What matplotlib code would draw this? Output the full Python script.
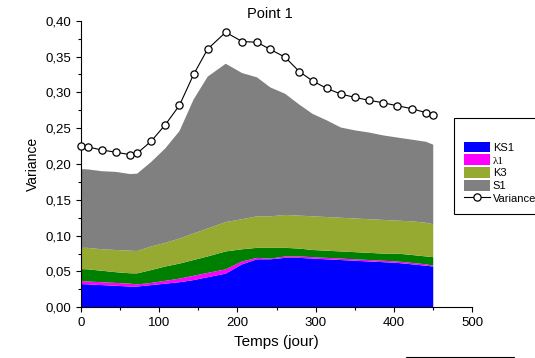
import matplotlib
matplotlib.use("Agg")
import matplotlib.pyplot as plt
from matplotlib.patches import Rectangle
from matplotlib.ticker import FuncFormatter, MultipleLocator

plt.rcParams["font.family"] = ["Liberation Sans", "DejaVu Sans"]

# days of the sampling campaign
jours = [0, 9, 27, 45, 63, 72, 90, 108, 126, 144, 162, 185, 206, 225, 242,
         261, 279, 296, 314, 332, 350, 368, 386, 404, 423, 441, 450]

# stacked contributions (bottom to top)
ks1 = [0.0325, 0.032, 0.031, 0.030, 0.029, 0.029, 0.031, 0.033, 0.035, 0.038,
       0.042, 0.047, 0.060, 0.067, 0.067, 0.069, 0.069, 0.068, 0.067, 0.066,
       0.065, 0.064, 0.063, 0.062, 0.060, 0.058, 0.057]
lambda1 = [0.0042, 0.004, 0.004, 0.004, 0.004, 0.003, 0.003, 0.004, 0.005, 0.006,
           0.006, 0.006, 0.004, 0.002, 0.001, 0.002, 0.002, 0.002, 0.002, 0.002,
           0.002, 0.002, 0.002, 0.002, 0.002, 0.002, 0.001]
autre = [0.0167, 0.017, 0.016, 0.015, 0.0145, 0.0154, 0.018, 0.020, 0.021, 0.022,
         0.023, 0.025, 0.017, 0.014, 0.015, 0.012, 0.011, 0.010, 0.010, 0.010,
         0.010, 0.010, 0.010, 0.011, 0.011, 0.011, 0.012]
k3 = [0.0296, 0.030, 0.030, 0.031, 0.0315, 0.0312, 0.033, 0.033, 0.035, 0.037,
      0.039, 0.041, 0.042, 0.044, 0.044, 0.046, 0.046, 0.047, 0.047, 0.047,
      0.047, 0.047, 0.047, 0.046, 0.047, 0.047, 0.046]
s1 = [0.110, 0.1095, 0.109, 0.109, 0.107, 0.108, 0.118, 0.132, 0.150, 0.187,
      0.212, 0.221, 0.204, 0.194, 0.180, 0.169, 0.155, 0.143, 0.135, 0.126,
      0.123, 0.121, 0.118, 0.116, 0.114, 0.113, 0.111]

# total variance (open circles)
variance = [0.225, 0.224, 0.2195, 0.2165, 0.213, 0.215, 0.232, 0.255, 0.282, 0.325,
            0.3605, 0.384, 0.371, 0.370, 0.360, 0.349, 0.329, 0.316, 0.3056, 0.2977,
            0.293, 0.289, 0.2855, 0.2814, 0.2772, 0.2716, 0.268]

couleurs = ["#0000ff", "#ff00ff", "#008000", "#96aa31", "#808080"]
noms = ["KS1", "\u03bb1", "_nolegend_", "K3", "S1"]

fig = plt.figure(figsize=(5.35, 3.58), dpi=100)
ax = fig.add_axes([0.151, 0.1416, 0.732, 0.8004])

ax.stackplot(jours, ks1, lambda1, autre, k3, s1, colors=couleurs, labels=noms,
             linewidth=0)
ax.plot(jours, variance, "-o", color="black", lw=0.8, ms=5.2, mfc="white",
        mec="black", mew=0.9, label="Variance", zorder=5, clip_on=False)

ax.set_xlim(0, 500)
ax.set_ylim(0, 0.40)
ax.spines["top"].set_visible(False)
ax.spines["right"].set_visible(False)
ax.xaxis.set_major_locator(MultipleLocator(100))
ax.xaxis.set_minor_locator(MultipleLocator(50))
ax.yaxis.set_major_locator(MultipleLocator(0.05))
ax.yaxis.set_minor_locator(MultipleLocator(0.025))
ax.yaxis.set_major_formatter(FuncFormatter(lambda v, _: f"{v:.2f}".replace(".", ",")))
ax.tick_params(which="major", direction="out", length=3.5, width=0.8, labelsize=9.5)
ax.tick_params(which="minor", direction="out", length=2, width=0.8)

ax.set_xlabel("Temps (jour)", fontsize=11, labelpad=4)
ax.set_ylabel("Variance", fontsize=10, labelpad=4)
ax.set_title("Point 1", fontsize=10.5, x=0.483, pad=2)

leg = ax.legend(loc="upper left", bbox_to_anchor=(0.8486, 0.6704),
                bbox_transform=fig.transFigure, borderaxespad=0, fontsize=8,
                title=" ", title_fontsize=9, fancybox=False, framealpha=1,
                edgecolor="black", handlelength=2.3, handleheight=1.1,
                labelspacing=0.15, handletextpad=0.3, borderpad=0.9)
leg.get_frame().set_linewidth(0.8)
leg.get_texts()[1].set_family(["Liberation Serif", "DejaVu Serif"])

# partial frame at the lower right edge of the page
fig.patches.append(Rectangle((0.759, -0.05), 0.202, 0.0536, transform=fig.transFigure,
                             fill=False, edgecolor="black", lw=0.8))

fig.savefig("out.png", dpi=100)
